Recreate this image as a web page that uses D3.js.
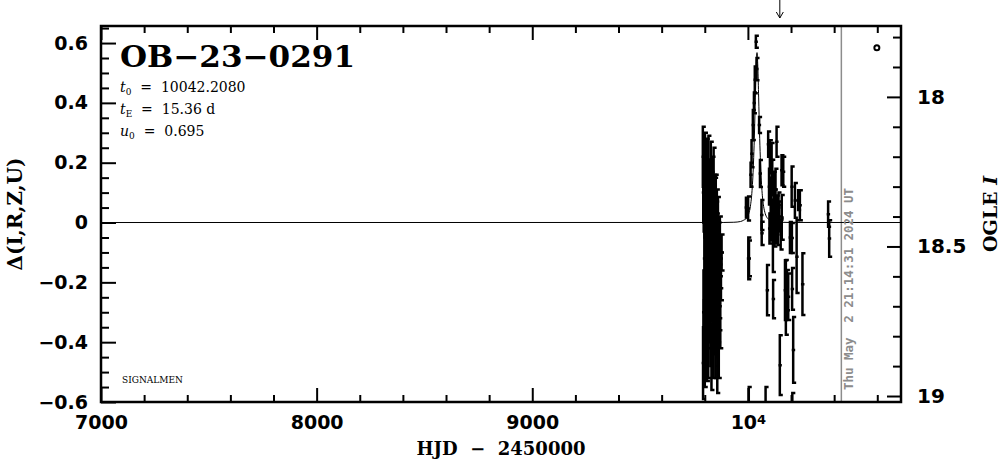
<!DOCTYPE html>
<html><head><meta charset="utf-8">
<script src="https://cdn.jsdelivr.net/npm/d3@7"></script>
<style>body{margin:0;background:#fff}svg{display:block}</style>
</head><body>
<svg id="c" width="1004" height="459"></svg>
<script>
// ---- data ----
const obsTime = [9791,9792,9793,9794,9795,9796,9797,9798,9799,9800,9801,9802,9803,9804,9805,9806,9807,9808,9809,9810,
 9811,9812,9813,9814,9815,9816,9817,9818,9819,9820,9822,9823,9824,9825,9826,9827,9828,9829,9830,9831,
 9832,9833,9834,9835,9836,9838,9839,9840,9841,9842,9843,9844,9845,9846,9848,9849,9850,9851,9852,9853,
 9855,9856,9857,9858,9860,9861,9862,9864,9865,9866,9868,9870,9872,9875,9878,
 9991,10001,10002,10004,10005,10012.5,10017,10023,10028,10032,10037,10040,10052,10056,10063,10064,
 10082,10089,10094,10098,10100,10102,10106,10108,10110,10113,10116,10117,10120,10123,10125,10128,10130,10133,10134,10139,10142,10145,10148,10152,
 10156,10157,10164,10172,10176,10181,10187,10195,10203,10204,10205,10206,10210,10218,10226,10233,10241,10253,10372,10377];
const obsDelta = [0.22,-0.47,0.10,-0.30,0.05,-0.38,0.15,-0.12,0.02,-0.45,0.20,-0.20,0.08,-0.08,-0.32,0.12,0.00,-0.15,0.18,-0.40,
 0.05,-0.10,0.14,-0.25,0.03,-0.42,0.18,-0.05,-0.18,0.09,-0.30,0.00,0.12,-0.12,-0.35,0.06,0.18,-0.22,-0.02,-0.45,
 0.10,-0.08,0.02,-0.28,0.14,-0.15,-0.38,0.04,0.15,-0.05,-0.20,0.08,-0.32,-0.10,0.05,-0.42,-0.18,0.10,-0.26,-0.02,
 -0.35,0.04,-0.12,-0.48,-0.22,0.03,-0.30,-0.08,-0.40,-0.15,-0.25,-0.05,-0.32,-0.18,-0.10,
 0.05,0.047,-0.12,-0.62,-0.12,0.16,0.23,0.326,0.40,0.477,0.604,0.513,0.326,0.164,0.025,-0.036,
 -0.62,-0.226,0.262,0.12,-0.02,0.22,0.08,0.00,0.209,0.15,-0.045,-0.256,0.10,-0.03,0.06,0.11,-0.01,0.27,0.04,-0.008,0.05,0.02,-0.477,-0.04,
 0.175,0.017,0.17,-0.226,-0.25,-0.226,-0.248,-0.05,0.12,-0.052,-0.222,-0.62,-0.426,0.074,-0.114,0.075,0.058,-0.206,0.028,-0.053];
const obsErr = [0.10,0.12,0.10,0.14,0.08,0.12,0.09,0.10,0.07,0.10,0.10,0.12,0.09,0.08,0.16,0.08,0.10,0.09,0.10,0.13,
 0.06,0.11,0.07,0.10,0.09,0.10,0.11,0.09,0.12,0.08,0.10,0.07,0.09,0.08,0.13,0.10,0.09,0.11,0.08,0.11,
 0.07,0.10,0.12,0.12,0.08,0.09,0.14,0.09,0.10,0.10,0.10,0.08,0.12,0.07,0.10,0.10,0.11,0.06,0.10,0.09,
 0.10,0.07,0.10,0.09,0.12,0.055,0.10,0.08,0.12,0.10,0.11,0.07,0.10,0.08,0.06,
 0.033,0.04,0.07,0.07,0.06,0.04,0.045,0.05,0.035,0.045,0.02,0.037,0.027,0.045,0.05,0.039,
 0.07,0.084,0.042,0.06,0.05,0.055,0.07,0.06,0.057,0.06,0.12,0.064,0.07,0.05,0.05,0.07,0.06,0.05,0.05,0.067,0.05,0.05,0.10,0.05,
 0.05,0.075,0.05,0.10,0.125,0.067,0.078,0.052,0.067,0.05,0.07,0.05,0.11,0.058,0.122,0.033,0.05,0.103,0.042,0.061];

const modelTime  = [7000,9888.6,9934.7,9965.4,9980.8,9996.1,10003.8,10011.5,10019.2,10023.0,10026.8,10030.7,10034.5,10038.4,10042.2,
                    10046.0,10049.9,10053.7,10057.6,10061.4,10065.2,10072.9,10080.6,10088.3,10103.6,10119.0,10149.7,10195.8,10710];
const modelDelta = [0,0.0002,0.0009,0.0033,0.0080,0.0167,0.0293,0.0543,0.1068,0.152,0.217,0.306,0.4165,0.5215,0.568,
                    0.5215,0.4165,0.306,0.217,0.152,0.1068,0.0543,0.0293,0.0167,0.0080,0.0033,0.0009,0.0002,0];

const xMajorTicks = [7000,8000,9000,10000];
const xMajorLabels = ["7000","8000","9000","10"];
const yMajorTicks = [-0.6,-0.4,-0.2,0,0.2,0.4,0.6];
const yMajorLabels = ["\u22120.6","\u22120.4","\u22120.2","0","0.2","0.4","0.6"];
const magMajorTicks = [18,18.5,19];
const magMajorLabels = ["18","18.5","19"];
const baselineMag = 18.42;
const eventName = "OB\u221223\u22120291";
const paramT0 = "10042.2080", paramTE = "15.36", paramU0 = "0.695";
const nowTime = 10433.4;
const nowLabel = "Thu May  2 21:14:31 2024 UT";
const arrowTime = 10148;
const markTime = 10598, markDelta = 0.584;

// ---- layout ----
const L = 101, R = 901, T = 26, B = 402;
const svg = d3.select("#c");
const x = d3.scaleLinear([7000, 10710], [L, R]);
const y = d3.scaleLinear([-0.6, 0.657], [B, T]);
const ym = d3.scaleLinear([baselineMag + 0.6, baselineMag - 0.657], [B, T]);

const tickFont = "'DejaVu Sans', sans-serif";
const serif = "'DejaVu Serif', serif";

function styleAxis(g){
  g.select(".domain").remove();
  g.selectAll(".tick line").attr("stroke","#000").attr("stroke-width",2);
  g.selectAll(".tick text").attr("fill","#000").attr("font-family",tickFont).attr("font-weight","bold").attr("font-size","19px");
}

const xMinor = d3.range(7000, 10711, 200).filter(v => v % 1000 !== 0);
const yMinor = d3.range(-12, 14).map(i => +(i*0.05).toFixed(2)).filter(v => !yMajorTicks.some(m => Math.abs(m - v) < 1e-6));
const magMinor = d3.range(178, 191).map(i => i/10).filter(v => !magMajorTicks.includes(v));

// bottom
svg.append("g").attr("transform",`translate(0,${B})`)
  .call(d3.axisBottom(x).tickValues(xMajorTicks).tickSize(-14).tickPadding(14).tickFormat((d,i)=>xMajorLabels[i]))
  .call(styleAxis)
  .call(g => g.selectAll(".tick text").filter(d => d===10000)
      .append("tspan").attr("dy","-0.45em").attr("font-size","13px").text("4"));
svg.append("g").attr("transform",`translate(0,${B})`)
  .call(d3.axisBottom(x).tickValues(xMinor).tickSize(-7).tickFormat("")).call(styleAxis);
// top
svg.append("g").attr("transform",`translate(0,${T})`)
  .call(d3.axisTop(x).tickValues(xMajorTicks).tickSize(-14).tickFormat("")).call(styleAxis);
svg.append("g").attr("transform",`translate(0,${T})`)
  .call(d3.axisTop(x).tickValues(xMinor).tickSize(-7).tickFormat("")).call(styleAxis);
// left
svg.append("g").attr("transform",`translate(${L},0)`)
  .call(d3.axisLeft(y).tickValues(yMajorTicks).tickSize(-15).tickPadding(13).tickFormat((d,i)=>yMajorLabels[i]))
  .call(styleAxis);
svg.append("g").attr("transform",`translate(${L},0)`)
  .call(d3.axisLeft(y).tickValues(yMinor).tickSize(-8).tickFormat("")).call(styleAxis);
// right
svg.append("g").attr("transform",`translate(${R},0)`)
  .call(d3.axisRight(ym).tickValues(magMajorTicks).tickSize(-14).tickPadding(16).tickFormat((d,i)=>magMajorLabels[i]))
  .call(styleAxis)
  .call(g => g.selectAll(".tick text").attr("font-weight","600").attr("font-size","20px"));
svg.append("g").attr("transform",`translate(${R},0)`)
  .call(d3.axisRight(ym).tickValues(magMinor).tickSize(-8).tickFormat("")).call(styleAxis);

// clip
svg.append("clipPath").attr("id","plot").append("rect").attr("x",L).attr("y",T).attr("width",R-L).attr("height",B-T);
const plot = svg.append("g").attr("clip-path","url(#plot)");

// now line
plot.append("line").attr("x1",x(nowTime)).attr("x2",x(nowTime)).attr("y1",T).attr("y2",B)
  .attr("stroke","#8c8c8c").attr("stroke-width",1.5);
svg.append("text").attr("transform",`translate(${x(nowTime)+12},390) rotate(-90)`)
  .attr("font-family","'DejaVu Sans Mono', monospace").attr("font-weight","bold").attr("font-size","12px")
  .attr("fill","#8c8c8c").attr("textLength",202).attr("lengthAdjust","spacingAndGlyphs")
  .attr("xml:space","preserve").style("white-space","pre").text(nowLabel);

// model
const line = d3.line().x(d=>x(d[0])).y(d=>y(d[1])).curve(d3.curveMonotoneX);
plot.append("path").attr("d", line(modelTime.map((t,i)=>[t,modelDelta[i]])))
  .attr("fill","none").attr("stroke","#000").attr("stroke-width",1);

// error bars
const pts = obsTime.map((t,i)=>({t, d:obsDelta[i], e:obsErr[i]}));
plot.selectAll("path.eb").data(pts).join("path").attr("class","eb")
  .attr("d", p => {
    const px = x(p.t), y1 = y(p.d+p.e), y2 = y(p.d-p.e), yc = y(p.d);
    return `M${px+3},${y1}H${px}V${y2}H${px+3}M${px-1.5},${yc}H${px+2}`;
  })
  .attr("fill","none").attr("stroke","#000").attr("stroke-width",2.5);

// marker circle
svg.append("circle").attr("cx",x(markTime)).attr("cy",y(markDelta)).attr("r",2.5)
  .attr("fill","none").attr("stroke","#000").attr("stroke-width",2);

// arrow above frame
const ax = x(arrowTime);
svg.append("path").attr("d",`M${ax},0V18M${ax-3.5},12L${ax},18L${ax+3.5},12`)
  .attr("fill","none").attr("stroke","#000").attr("stroke-width",1);

// frame
svg.append("rect").attr("x",L).attr("y",T).attr("width",R-L).attr("height",B-T)
  .attr("fill","none").attr("stroke","#000").attr("stroke-width",2.5);

// title & params
svg.append("text").attr("x",120).attr("y",67).attr("font-family",serif).attr("font-weight","bold")
  .attr("font-size","30px").attr("textLength",235).attr("lengthAdjust","spacingAndGlyphs").text(eventName);

function param(yb, sym, sub, val){
  const t = svg.append("text").attr("x",120).attr("y",yb).attr("font-family",serif).attr("font-size","14px");
  t.append("tspan").attr("font-style","italic").text(sym);
  t.append("tspan").attr("font-size","9px").attr("dy",3).text(sub);
  t.append("tspan").attr("dy",-3).attr("xml:space","preserve").text("  =  " + val);
}
param(92, "t", "0", paramT0);
param(114, "t", "E", paramTE + " d");
param(136, "u", "0", paramU0);

svg.append("text").attr("x",122).attr("y",383).attr("font-family",serif).attr("font-size","9px")
  .attr("textLength",61).attr("lengthAdjust","spacingAndGlyphs").text("SIGNALMEN");

// axis titles
svg.append("text").attr("x",501).attr("y",455).attr("text-anchor","middle").attr("font-family",serif)
  .attr("font-weight","bold").attr("font-size","18px").attr("xml:space","preserve").text("HJD  \u2212  2450000");
svg.append("text").attr("transform","translate(22,214) rotate(-90)").attr("text-anchor","middle")
  .attr("font-family",serif).attr("font-weight","bold").attr("font-size","20px").text("\u0394(I,R,Z,U)");
const og = svg.append("text").attr("transform","translate(997,214) rotate(-90)").attr("text-anchor","middle")
  .attr("font-family",serif).attr("font-weight","bold").attr("font-size","19px");
og.append("tspan").text("OGLE ");
og.append("tspan").attr("font-style","italic").text("I");
</script>
</body></html>
